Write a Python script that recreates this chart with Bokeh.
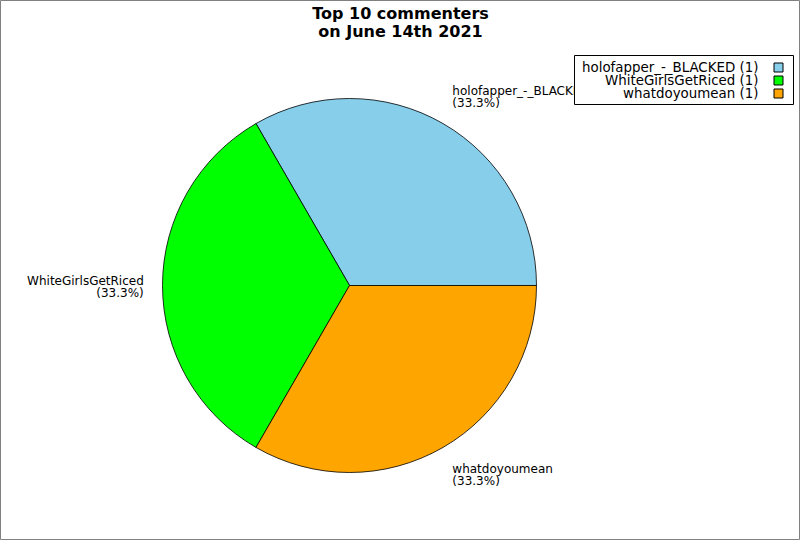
import numpy as np
from bokeh.plotting import figure
from bokeh.models import Range1d, ColumnDataSource
from bokeh.core.properties import value
from bokeh.embed import file_html
from bokeh.resources import INLINE

# ---- data ----
names = ["holofapper_-_BLACKED", "WhiteGirlsGetRiced", "whatdoyoumean"]
counts = [1, 1, 1]
colors = ["#87CEEB", "#00FF00", "#FFA500"]
title_lines = ["Top 10 commenters", "on June 14th 2021"]

W, H = 800, 540
FONT = "DejaVu Sans"

p = figure(width=W, height=H, output_backend="svg", toolbar_location=None,
           x_range=Range1d(0, W), y_range=Range1d(0, H),
           x_axis_location=None, y_axis_location=None, min_border=0,
           tools="")
p.grid.visible = False
p.outline_line_color = "#808080"
p.outline_line_width = 1
p.background_fill_color = "white"
p.border_fill_color = "white"

# pie geometry (1 unit == 1 px)
cx, cy, r = 349, H - 285, 187
total = float(sum(counts))
fracs = np.array(counts) / total
ends = np.cumsum(fracs) * 2 * np.pi
starts = np.concatenate([[0.0], ends[:-1]])

src = ColumnDataSource(dict(start=starts, end=ends, color=colors, name=names))
p.wedge(x=cx, y=cy, radius=r, start_angle="start", end_angle="end",
        fill_color="color", line_color="black", line_width=0.8, source=src)

# slice labels
mids = (starts + ends) / 2
lx, ly, la, lb, lt, lo = [], [], [], [], [], []
for m, n, f in zip(mids, names, fracs):
    c, s = np.cos(m), np.sin(m)
    lx.append(cx + 1.1 * r * c)
    ly.append(cy + 1.1 * r * s)
    la.append("left" if c > 0.1 else ("right" if c < -0.1 else "center"))
    if s > 0.1:
        lb.append("bottom"); lo.append(3)
    elif s < -0.1:
        lb.append("top"); lo.append(-2)
    else:
        lb.append("middle"); lo.append(1.5)
    lt.append(f"{n}\n({f*100:.1f}%)")
lsrc = ColumnDataSource(dict(x=lx, y=ly, text=lt, align=la, base=lb, off=lo))
p.text(x="x", y="y", text="text", text_align="align", text_baseline="base",
       y_offset="off", text_font=value(FONT), text_font_size="12px",
       text_line_height=0.9, text_color="black", source=lsrc)

# title
p.text(x=[W / 2], y=[H - 3], text=["\n".join(title_lines)], text_align="center",
       text_baseline="top", text_font=value(FONT), text_font_size="16px",
       text_font_style="bold", text_line_height=0.95, text_color="black")

# legend (drawn manually: text right-aligned, swatch on the right)
box_l, box_r, box_t, box_b = 574, 793, H - 55, H - 104
p.quad(left=[box_l], right=[box_r], top=[box_t], bottom=[box_b],
       fill_color="white", line_color="black", line_width=1)
row_y = [H - 67 - 13 * i for i in range(len(names))]
leg_text = [f"{n} ({c})" for n, c in zip(names, counts)]
p.text(x=[758] * len(names), y=row_y, text=leg_text, text_align="right",
       text_baseline="middle", text_font=value(FONT), text_font_size="13.4px",
       text_color="black")
p.rect(x=[778] * len(names), y=row_y, width=9, height=9, fill_color=colors,
       line_color="black", line_width=1)

open("out.html", "w").write(file_html(p, INLINE))
